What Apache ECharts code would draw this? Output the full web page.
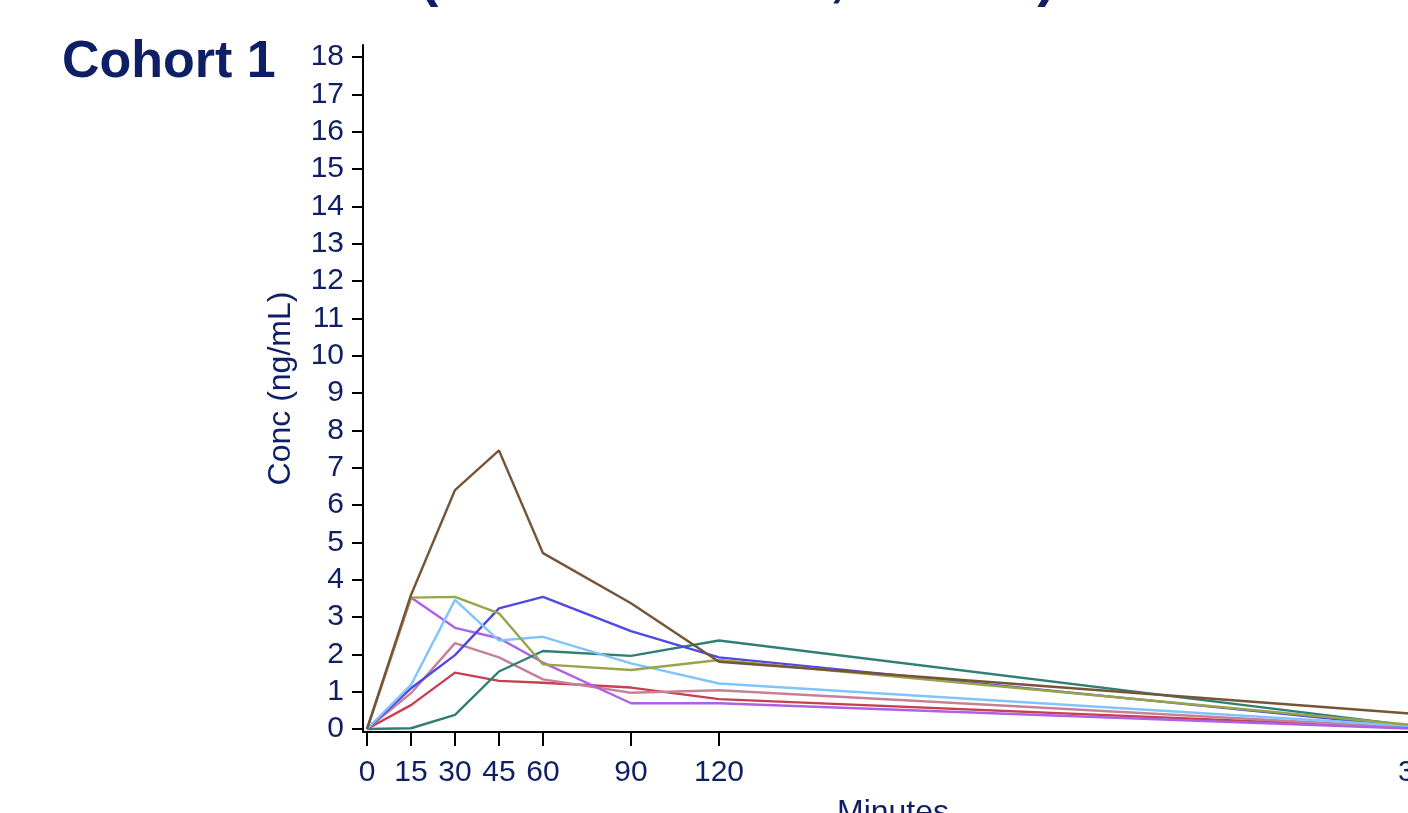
<!DOCTYPE html>
<html>
<head>
<meta charset="utf-8">
<title>Cohort 1</title>
<script src="https://cdn.jsdelivr.net/npm/echarts@6/dist/echarts.min.js"></script>
<style>
  html, body { margin: 0; padding: 0; background: #fff; overflow: hidden; }
  #chart { width: 1500px; height: 813px; }
</style>
</head>
<body>
<div id="chart"></div>
<script>
// ── Data ──────────────────────────────────────────────────────────────────────
// Sampling times (minutes) and per-subject concentrations (ng/mL).
const minutes = [0, 15, 30, 45, 60, 90, 120, 360];

const subj1 = [0, 3.59, 6.40, 7.46, 4.71, 3.37, 1.80, 0.39]; // brown
const subj2 = [0, 3.52, 3.54, 3.10, 1.73, 1.58, 1.85, 0.08]; // olive
const subj3 = [0, 1.18, 3.46, 2.37, 2.47, 1.76, 1.22, 0.06]; // light blue
const subj4 = [0, 1.09, 1.98, 3.23, 3.54, 2.62, 1.92, 0.03]; // blue
const subj5 = [0, 0.02, 0.38, 1.54, 2.09, 1.96, 2.37, 0.05]; // teal
const subj6 = [0, 3.52, 2.71, 2.43, 1.78, 0.69, 0.69, 0.00]; // purple
const subj7 = [0, 0.96, 2.30, 1.92, 1.33, 0.97, 1.04, 0.02]; // mauve
const subj8 = [0, 0.64, 1.51, 1.29, 1.24, 1.11, 0.80, 0.02]; // red

const subjects = [subj8, subj7, subj6, subj5, subj4, subj3, subj2, subj1];
const colors   = ['#c8404f', '#c88098', '#b060e4', '#2e8074', '#5048e4', '#80c4ff', '#98a44a', '#765438'];

const xTicks = [0, 15, 30, 45, 60, 90, 120, 360];
const yTicks = [0, 1, 2, 3, 4, 5, 6, 7, 8, 9, 10, 11, 12, 13, 14, 15, 16, 17, 18];

// ── Style ─────────────────────────────────────────────────────────────────────
const NAVY = '#0f1f66';
const FONT = '"Liberation Sans", Arial, sans-serif';

const pair = vals => minutes.map((m, i) => [m, vals[i]]);

const chart = echarts.init(document.getElementById('chart'), null, { renderer: 'canvas' });

chart.setOption({
  animation: false,
  backgroundColor: '#fff',
  textStyle: { fontFamily: FONT },
  graphic: [
    {
      type: 'text', left: 62, top: 37,
      style: { text: 'Cohort 1', fill: NAVY, font: 'bold 52px ' + FONT }
    },
    {
      // page title sits mostly above the visible area, as in the source image
      type: 'text', left: 420, top: -48,
      style: { text: '(Individual Data, Fasted)', fill: NAVY, font: 'bold 55px ' + FONT }
    }
  ],
  // outerBoundsMode 'none' keeps the grid exactly where it is set (no auto shrink)
  grid: { left: 363, top: 45, width: 1060, height: 687, outerBoundsMode: 'none' },
  xAxis: {
    type: 'value',
    min: -1.36, max: 360,
    name: 'Minutes',
    nameLocation: 'middle',
    nameGap: 65,
    nameTextStyle: { color: NAVY, fontSize: 32, fontFamily: FONT },
    axisLine: { show: true, onZero: false, lineStyle: { color: '#000', width: 2 } },
    axisTick: { show: true, length: 14, customValues: xTicks, lineStyle: { color: '#000', width: 2 } },
    axisLabel: { customValues: xTicks, color: NAVY, fontSize: 30, margin: 26, fontFamily: FONT },
    splitLine: { show: false }
  },
  yAxis: {
    type: 'value',
    min: -0.08, max: 18.32,
    name: 'Conc (ng/mL)',
    nameLocation: 'middle',
    nameRotate: 90,
    nameGap: 66,
    nameTextStyle: { color: NAVY, fontSize: 32, fontFamily: FONT },
    axisLine: { show: true, onZero: false, lineStyle: { color: '#000', width: 2 } },
    axisTick: { show: true, length: 11, customValues: yTicks, lineStyle: { color: '#000', width: 2 } },
    axisLabel: {
      customValues: yTicks, color: NAVY, fontSize: 30, margin: 19,
      padding: [6, 0, 0, 0], fontFamily: FONT
    },
    splitLine: { show: false }
  },
  series: subjects.map((vals, i) => ({
    type: 'line',
    data: pair(vals),
    symbol: 'none',
    clip: false,
    lineStyle: { color: colors[i], width: 2.4 },
    z: 2 + i
  }))
});
</script>
</body>
</html>
